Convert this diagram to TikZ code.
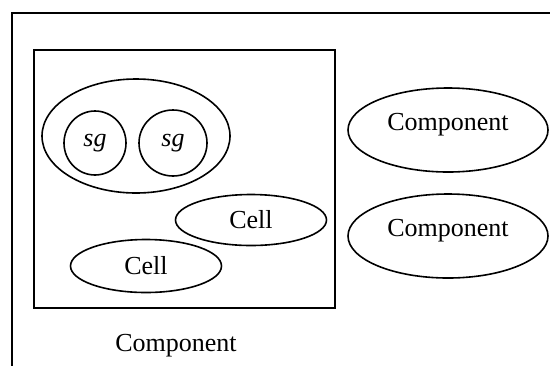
\documentclass[tikz,border=0pt]{standalone}
\usepackage{fontspec}
\setmainfont{Liberation Serif}
\usetikzlibrary{shapes.geometric}

\tikzset{
    frame/.style={draw, line width=1pt, inner sep=0pt},
    blob/.style={draw, ellipse, line width=0.8pt, inner sep=0pt},
    compblob/.style={blob, minimum width=100pt, minimum height=42pt, text depth=8.5pt}
}

\begin{document}
\begin{tikzpicture}[x=0.5pt, y=-0.5pt, font=\fontsize{13}{15}\selectfont]
    \useasboundingbox (0,0) rectangle (550,365);
    \clip (0,0) rectangle (550,365);

    % outer component frame, running past the page edge
    \node[frame, minimum width=274pt, minimum height=181pt] (outer) at (286,194) {};
    \node (outerlbl) at (176,346) {Component};

    % inner component
    \node[frame, minimum width=150.5pt, minimum height=129pt] (inner) at (184.5,179) {};

    % group of two sg circles
    \node[blob, minimum width=94pt, minimum height=57pt] (grp) at (136,136) {};
    \node[blob, minimum width=31pt, minimum height=32pt] (sga) at (95,143) {\itshape sg};
    \node[blob, minimum width=34pt, minimum height=33pt] (sgb) at (173,143) {\itshape sg};

    % cells
    \node[blob, minimum width=75.5pt, minimum height=25.5pt] (cella) at (251,220) {Cell};
    \node[blob, minimum width=75.5pt, minimum height=26.5pt] (cellb) at (146,266) {Cell};

    % components on the right
    \node[compblob] (compa) at (448,130) {Component};
    \node[compblob] (compb) at (448,236) {Component};
\end{tikzpicture}
\end{document}
